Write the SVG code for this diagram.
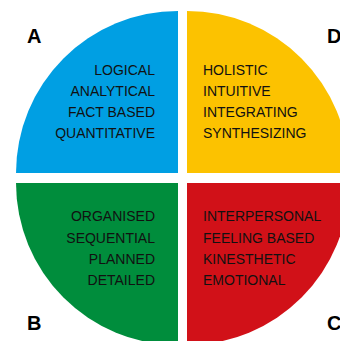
<svg xmlns="http://www.w3.org/2000/svg" width="340" height="341" viewBox="0 0 340 341">
<style>
.t{font-family:"Liberation Sans",Arial,sans-serif;font-size:14px;fill:#111}
.r{text-anchor:end}
.l{font-family:"Liberation Sans",Arial,sans-serif;font-size:20px;font-weight:bold;fill:#000}
</style>
<rect width="340" height="341" fill="#fff"/>
<g id="quadA">
<path d="M178,173 L16,173 A162,162 0 0 1 178,11 Z" fill="#009fe3"/>
<text class="t r" x="155" y="75">LOGICAL</text>
<text class="t r" x="155" y="96">ANALYTICAL</text>
<text class="t r" x="155" y="117">FACT BASED</text>
<text class="t r" x="155" y="138">QUANTITATIVE</text>
<text class="l" x="27" y="43">A</text>
</g>
<g id="quadD">
<path d="M187,173 L187,11 A162,162 0 0 1 349,173 Z" fill="#fcc200"/>
<text class="t" x="203" y="75">HOLISTIC</text>
<text class="t" x="203" y="96">INTUITIVE</text>
<text class="t" x="203" y="117">INTEGRATING</text>
<text class="t" x="203" y="138">SYNTHESIZING</text>
<text class="l" x="327" y="43">D</text>
</g>
<g id="quadB">
<path d="M178,183 L178,345 A162,162 0 0 1 16,183 Z" fill="#008d3c"/>
<text class="t r" x="155" y="221">ORGANISED</text>
<text class="t r" x="155" y="243">SEQUENTIAL</text>
<text class="t r" x="155" y="264">PLANNED</text>
<text class="t r" x="155" y="285">DETAILED</text>
<text class="l" x="27" y="330">B</text>
</g>
<g id="quadC">
<path d="M187,183 L349,183 A162,162 0 0 1 187,345 Z" fill="#d11118"/>
<text class="t" x="203" y="221">INTERPERSONAL</text>
<text class="t" x="203" y="243">FEELING BASED</text>
<text class="t" x="203" y="264">KINESTHETIC</text>
<text class="t" x="203" y="285">EMOTIONAL</text>
<text class="l" x="327" y="330">C</text>
</g>
<g id="connectors"/>
</svg>
